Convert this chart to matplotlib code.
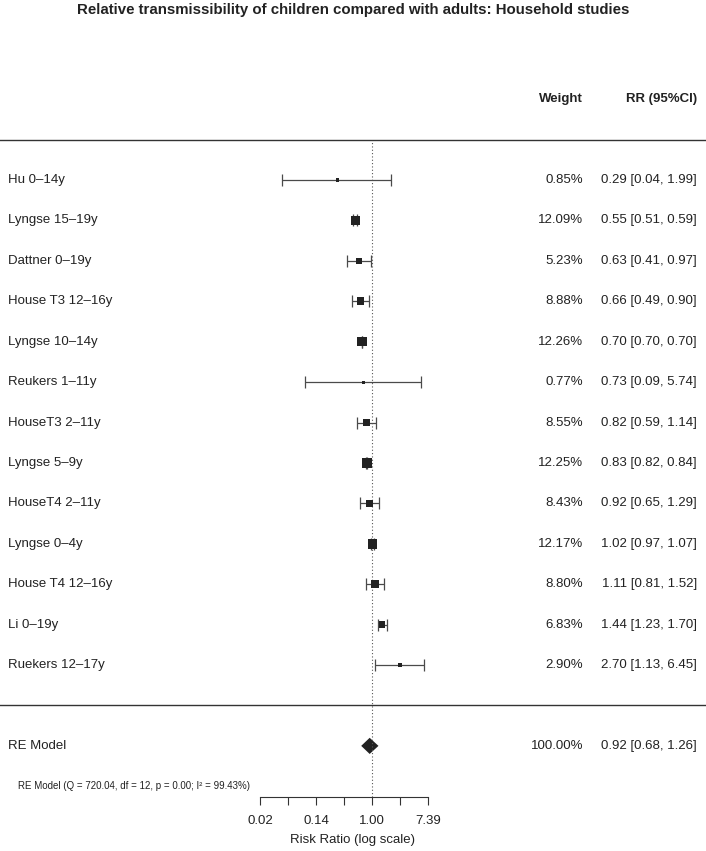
import numpy as np
import matplotlib
matplotlib.use("Agg")
import matplotlib.pyplot as plt
from matplotlib.ticker import FuncFormatter

plt.rcParams["font.family"] = ["Liberation Sans", "DejaVu Sans"]

# study rows, top to bottom
studies = ["Hu 0\u201314y", "Lyngse 15\u201319y", "Dattner 0\u201319y", "House T3 12\u201316y",
           "Lyngse 10\u201314y", "Reukers 1\u201311y", "HouseT3 2\u201311y", "Lyngse 5\u20139y",
           "HouseT4 2\u201311y", "Lyngse 0\u20134y", "House T4 12\u201316y", "Li 0\u201319y",
           "Ruekers 12\u201317y"]
rr = [0.29, 0.55, 0.63, 0.66, 0.70, 0.73, 0.82, 0.83, 0.92, 1.02, 1.11, 1.44, 2.70]
ci_lo = [0.04, 0.51, 0.41, 0.49, 0.70, 0.09, 0.59, 0.82, 0.65, 0.97, 0.81, 1.23, 1.13]
ci_hi = [1.99, 0.59, 0.97, 0.90, 0.70, 5.74, 1.14, 0.84, 1.29, 1.07, 1.52, 1.70, 6.45]
weights = [0.85, 12.09, 5.23, 8.88, 12.26, 0.77, 8.55, 12.25, 8.43, 12.17, 8.80, 6.83, 2.90]

# pooled random-effects estimate
re_rr, re_lo, re_hi = 0.92, 0.68, 1.26
re_weight = 100.00
re_stats = "RE Model (Q = 720.04, df = 12, p = 0.00; I\u00b2 = 99.43%)"
axis_ticks = [-4, -3, -2, -1, 0, 1, 2]

W, H = 706, 851
fig = plt.figure(figsize=(W / 100, H / 100), dpi=100)

# layout: x in log(RR) units (28 px per unit, 1.00 at px 372); y in row units
x0_px, xs = 372.0, 28.0
y_top_px, row_px = 180.0, 40.42
k = len(studies)


def px2x(px):
    return (px - x0_px) / xs


ylim = (k - (H - y_top_px) / row_px, k + y_top_px / row_px)
ax = fig.add_axes([0, 0, 1, 1])
ax.set_xlim(px2x(0), px2x(W))
ax.set_ylim(*ylim)
ax.axis("off")

rows = np.arange(k, 0, -1)
est = np.log(rr)
lo = np.log(ci_lo)
hi = np.log(ci_hi)
w = np.array(weights)
y_axis = 1 - (797 - 665) / row_px

# reference line and separators
ax.plot([0, 0], [y_axis, k + 1], color="#555555", lw=0.8, ls=(0, (1, 2)))
ax.axhline(k + 1, color="#333333", lw=1.0)
ax.axhline(0, color="#333333", lw=1.0)

ax.errorbar(est, rows, xerr=[est - lo, hi - est], fmt="none", ecolor="#4a4a4a",
            elinewidth=0.9, capsize=4.2, capthick=0.9)
msize = (3 + (w - w.min()) / (w.max() - w.min()) * 6.5) * 0.72
ax.scatter(est, rows, s=msize ** 2, marker="s", color="#222222", zorder=3, lw=0)

# summary diamond
e, l, h = np.log(re_rr), np.log(re_lo), np.log(re_hi)
ax.fill([l, e, h, e], [-1, -1 + 0.2, -1, -1 - 0.2], color="#222222", lw=0)

fs = 9.5
tc = "#222222"
for r, name, wt, m, a, b in zip(rows, studies, weights, rr, ci_lo, ci_hi):
    ax.text(px2x(8), r, name, ha="left", va="center", fontsize=fs, color=tc)
    ax.text(px2x(583), r, f"{wt:.2f}%", ha="right", va="center", fontsize=fs, color=tc)
    ax.text(px2x(697), r, f"{m:.2f} [{a:.2f}, {b:.2f}]", ha="right", va="center",
            fontsize=fs, color=tc)
ax.text(px2x(8), -1, "RE Model", ha="left", va="center", fontsize=fs, color=tc)
ax.text(px2x(583), -1, f"{re_weight:.2f}%", ha="right", va="center", fontsize=fs, color=tc)
ax.text(px2x(697), -1, f"{re_rr:.2f} [{re_lo:.2f}, {re_hi:.2f}]", ha="right", va="center",
        fontsize=fs, color=tc)
ax.text(px2x(18), 1 - (786 - 665) / row_px, re_stats, ha="left", va="center",
        fontsize=7, color=tc)

ax.text(px2x(583), k + 2, "Weight", ha="right", va="center", fontsize=fs,
        fontweight="bold", color=tc)
ax.text(px2x(697), k + 2, "RR (95%CI)", ha="right", va="center", fontsize=fs,
        fontweight="bold", color=tc)

fig.text(0.5, 1 - 10 / H, "Relative transmissibility of children compared with adults: Household studies",
         ha="center", va="center", fontsize=10.8, fontweight="bold", color=tc)

# bottom axis
axx = fig.add_axes([0, (H - 797) / H, 1, 0.0001])
axx.set_xlim(ax.get_xlim())
axx.patch.set_alpha(0)
for s in ["top", "left", "right"]:
    axx.spines[s].set_visible(False)
axx.spines["bottom"].set_bounds(axis_ticks[0], axis_ticks[-1])
axx.spines["bottom"].set_color("#333333")
axx.set_yticks([])
axx.set_xticks(axis_ticks)
axx.xaxis.set_major_formatter(FuncFormatter(lambda v, p: f"{np.exp(v):.2f}" if int(v) % 2 == 0 else ""))
axx.tick_params(axis="x", length=6, width=0.8, color="#333333", labelsize=fs, pad=7,
                labelcolor=tc)
axx.set_xlabel("Risk Ratio (log scale)", fontsize=fs, color=tc, labelpad=5)

fig.savefig("out.png", dpi=100)
